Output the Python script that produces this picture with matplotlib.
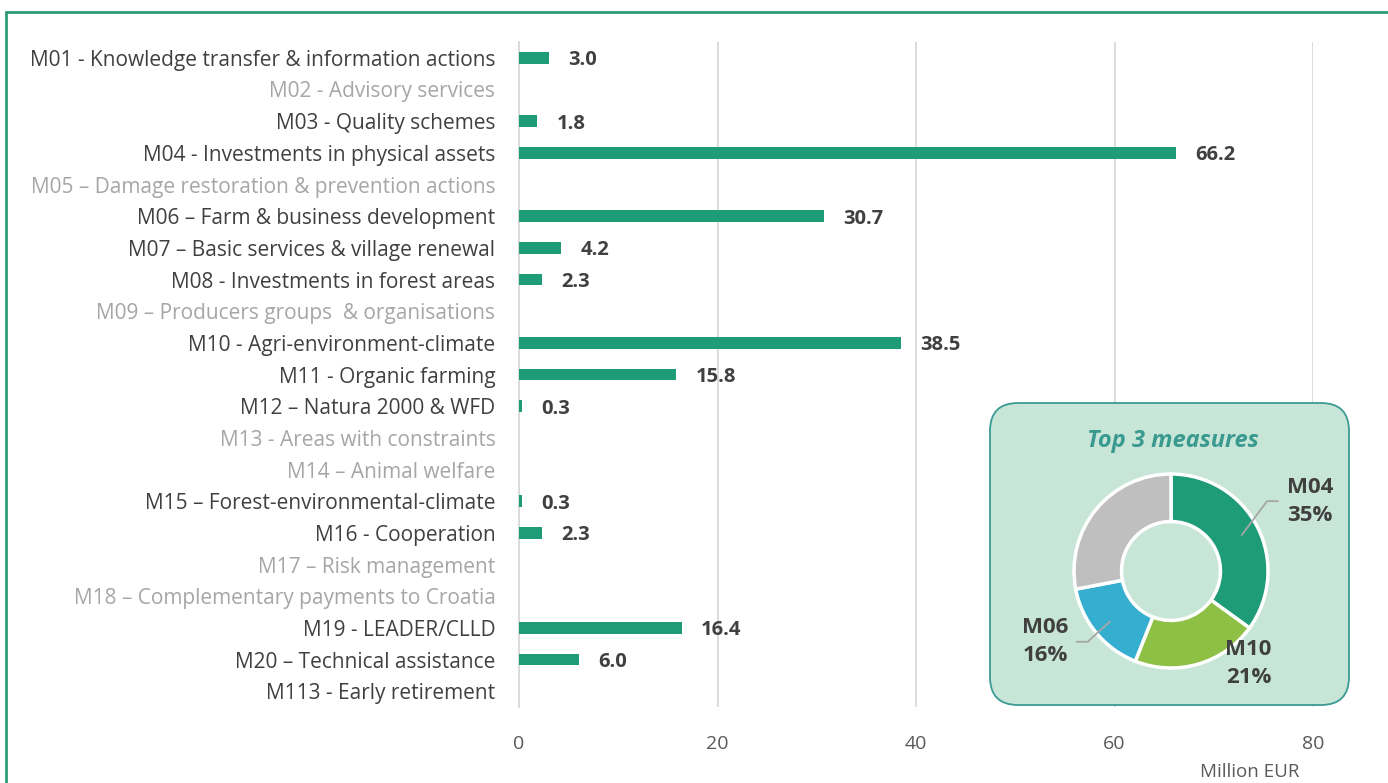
import numpy as np
import matplotlib.pyplot as plt
from matplotlib.patches import FancyBboxPatch, Rectangle

measures = [
    "M01 - Knowledge transfer & information actions",
    "M02 - Advisory services",
    "M03 - Quality schemes",
    "M04 - Investments in physical assets",
    "M05 \u2013 Damage restoration & prevention actions",
    "M06 \u2013 Farm & business development",
    "M07 \u2013 Basic services & village renewal",
    "M08 - Investments in forest areas",
    "M09 \u2013 Producers groups  & organisations",
    "M10 - Agri-environment-climate",
    "M11 - Organic farming",
    "M12 \u2013 Natura 2000 & WFD",
    "M13 - Areas with constraints",
    "M14 \u2013 Animal welfare",
    "M15 \u2013 Forest-environmental-climate",
    "M16 - Cooperation",
    "M17 \u2013 Risk management",
    "M18 \u2013 Complementary payments to Croatia",
    "M19 - LEADER/CLLD",
    "M20 \u2013 Technical assistance",
    "M113 - Early retirement",
]
values = [3.0, None, 1.8, 66.2, None, 30.7, 4.2, 2.3, None, 38.5, 15.8, 0.3,
          None, None, 0.3, 2.3, None, None, 16.4, 6.0, None]
inactive = ["M02", "M05", "M09", "M13", "M14", "M17", "M18"]

top_names = ["M04", "M10", "M06", "Other"]
top_shares = [35, 21, 16, 28]
top_colors = ["#1E9B77", "#8DC044", "#36AED0", "#BFBFBF"]

FONT = "Open Sans"
DARK = "#404040"
LIGHT = "#A6A6A6"
BAR = "#1E9B77"

W, H = 1388, 783
fig = plt.figure(figsize=(W / 100, H / 100), dpi=100)

# green frame (only top and left visible)
fig.patches.append(Rectangle((6 / W, -0.2), 1.5, 1 - 12 / H + 0.2, transform=fig.transFigure,
                             fill=False, edgecolor="#2E9C7A", linewidth=2, zorder=0))

ax = fig.add_axes([519 / W, 1 - 707 / H, (1313 - 519) / W, (707 - 42) / H])
y = np.arange(len(measures))
for i, v in enumerate(values):
    if v is None:
        continue
    ax.barh(i, v, height=0.36, color=BAR, zorder=3)
    ax.annotate(f"{v:.1f}", (v, i), xytext=(14, 0), textcoords="offset points",
                ha="left", va="center_baseline", fontsize=14.5, fontweight="bold",
                color=DARK, family=FONT)

ax.set_ylim(len(measures) - 0.5, -0.5)
ax.set_xlim(0, 80)
ax.set_xticks([0, 20, 40, 60, 80])
ax.set_yticks(y)
ax.set_yticklabels(measures, family=FONT, fontsize=15)
for lab, name in zip(ax.get_yticklabels(), measures):
    lab.set_color(LIGHT if name.split()[0] in inactive else DARK)
ax.tick_params(axis="y", length=0, pad=17)
ax.tick_params(axis="x", length=0, pad=20, labelsize=14, labelcolor="#595959")
for lab in ax.get_xticklabels():
    lab.set_family(FONT)
ax.grid(axis="x", color="#D9D9D9", linewidth=1.3, zorder=0)
for s in ["top", "right", "bottom"]:
    ax.spines[s].set_visible(False)
ax.spines["left"].set_color("#D9D9D9")
ax.spines["left"].set_linewidth(1.3)

fig.text(1250 / W, 1 - 772 / H, "Million EUR", ha="center", va="center",
         fontsize=13.5, color="#595959", family=FONT)

# inset box
box = FancyBboxPatch((990 / 100, (H - 705) / 100), 3.59, 3.02,
                     boxstyle="round,pad=0,rounding_size=0.28",
                     transform=fig.dpi_scale_trans, facecolor="#C8E6D8",
                     edgecolor="#3C9A94", linewidth=1.3, zorder=1)
fig.patches.append(box)
fig.text(1173 / W, 1 - 441 / H, "Top 3 measures", ha="center", va="center",
         fontsize=17, fontweight="bold", style="italic", color="#3A9A90",
         family=FONT, zorder=2)

cx, cy, r = 1171, 571, 97
pax = fig.add_axes([(cx - r) / W, 1 - (cy + r) / H, 2 * r / W, 2 * r / H], zorder=3)
pax.patch.set_alpha(0)
pax.pie(top_shares, colors=top_colors, startangle=90, counterclock=False, radius=1,
        wedgeprops=dict(width=0.49, edgecolor="white", linewidth=2.5))
pax.set_xlim(-1, 1)
pax.set_ylim(-1, 1)

# data labels with leader lines
cum = np.cumsum([0] + top_shares)
mids = 90 - (cum[:-1] + np.array(top_shares) / 2) * 3.6
lab_pos = {"M04": (1.43, 0.72), "M10": (0.80, -0.95), "M06": (-1.30, -0.73)}
for name, share, ang in zip(top_names, top_shares, mids):
    if name not in lab_pos:
        continue
    lx, ly = lab_pos[name]
    pax.text(lx, ly, f"{name}\n{share}%", ha="center", va="center", fontsize=16,
             fontweight="bold", color=DARK, family=FONT, linespacing=1.45, clip_on=False)
    if name == "M10":
        continue
    px, py = 0.82 * np.cos(np.radians(ang)), 0.82 * np.sin(np.radians(ang))
    side = 1 if lx > 0 else -1
    x_near = lx - side * 0.44
    x_far = lx - side * 0.33
    pax.plot([px, x_near, x_far], [py, ly, ly], color="#A6A6A6",
             linewidth=1.3, clip_on=False)

fig.savefig("out.png", dpi=100)
